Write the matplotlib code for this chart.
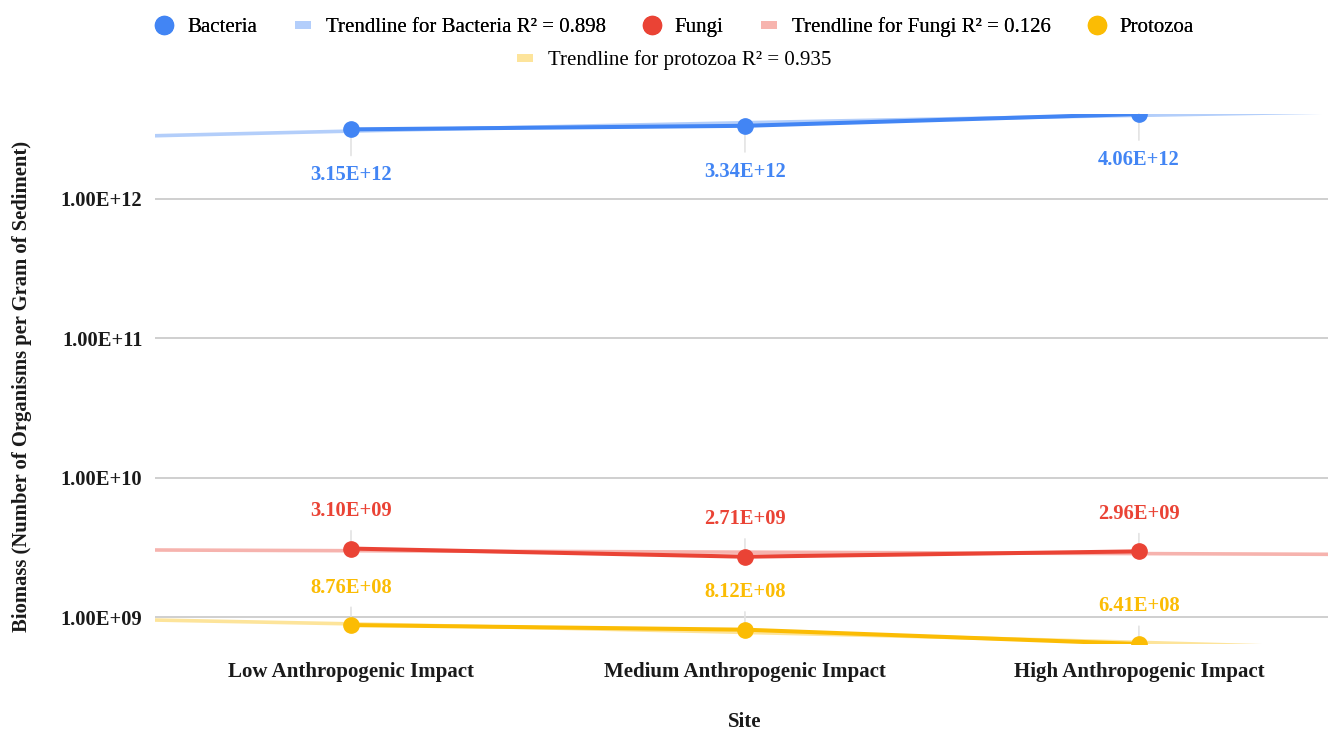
import matplotlib
matplotlib.use("Agg")
import matplotlib.pyplot as plt
import numpy as np
from matplotlib.colors import to_rgb
from matplotlib.lines import Line2D
from matplotlib.path import Path
from matplotlib.ticker import FixedLocator, FuncFormatter

# Biomass per site (organisms per gram of sediment)
sites = ["Low Anthropogenic Impact", "Medium Anthropogenic Impact", "High Anthropogenic Impact"]
bacteria = [3.15e12, 3.34e12, 4.06e12]
fungi = [3.10e9, 2.71e9, 2.96e9]
protozoa = [8.76e8, 8.12e8, 6.41e8]
y_ticks = [1e9, 1e10, 1e11, 1e12]

BLUE = "#4285F4"
RED = "#EA4335"
YELLOW = "#FBBC04"
GRID = "#cccccc"
LEADER = "#e3e3e3"
INK = "#1a1a1a"

plt.rcParams["font.family"] = ["Liberation Serif", "DejaVu Serif"]


def light(color, a=0.4):
    # colour of a translucent line on white
    r, g, b = to_rgb(color)
    return (1 - a + a * r, 1 - a + a * g, 1 - a + a * b)


fig = plt.figure(figsize=(13.28, 7.32), dpi=100)
ax = fig.add_axes([155 / 1328, 88 / 732, 1 - 155 / 1328, 530 / 732])

x = np.arange(len(sites))
xs = np.linspace(-0.5, 2.5, 200)

series = [
    ("Bacteria", bacteria, BLUE, "below"),
    ("Fungi", fungi, RED, "above"),
    ("Protozoa", protozoa, YELLOW, "above"),
]

r2_values = []
for name, vals, color, pos in series:
    vals = np.array(vals)
    # linear trendline fitted on the raw values
    slope, intercept = np.polyfit(x, vals, 1)
    fit = slope * x + intercept
    r2 = 1 - np.sum((vals - fit) ** 2) / np.sum((vals - vals.mean()) ** 2)
    r2_values.append(r2)
    ax.plot(xs, slope * xs + intercept, color=color, alpha=0.4, lw=2.6,
            solid_capstyle="butt", zorder=2)
    ax.plot(x, vals, color=color, lw=2.9, marker="o", ms=11, zorder=5)

    for xi, v in zip(x, vals):
        label = f"{v:.2E}"
        dy = -33 if pos == "below" else 27
        ax.annotate(label, xy=(xi, v), xytext=(0, dy), textcoords="offset points",
                    ha="center", va="center", color=color, fontsize=14.8,
                    fontweight="bold", zorder=3,
                    arrowprops=dict(arrowstyle="-", color=LEADER, lw=1.2,
                                    shrinkA=5, shrinkB=0))

ax.set_yscale("log")
ax.set_ylim(min(protozoa), max(bacteria))
ax.set_xlim(-0.4975, 2.48)

ax.yaxis.set_major_locator(FixedLocator(y_ticks))
ax.yaxis.set_minor_locator(FixedLocator([]))
ax.yaxis.set_major_formatter(FuncFormatter(lambda v, p: f"{v:.2E}"))
ax.set_xticks(x)
ax.set_xticklabels(sites)
ax.tick_params(axis="both", length=0)
ax.tick_params(axis="y", pad=9, labelsize=14.8)
ax.tick_params(axis="x", pad=13, labelsize=15)
for lbl in ax.get_xticklabels() + ax.get_yticklabels():
    lbl.set_fontweight("bold")
    lbl.set_color(INK)

ax.grid(axis="y", color=GRID, lw=1.3)
ax.set_axisbelow(True)
for s in ax.spines.values():
    s.set_visible(False)

fig.text(22 / 1328, 1 - 386 / 732, "Biomass (Number of Organisms per Gram of Sediment)",
         rotation=90, ha="center", va="center", fontsize=14.9, fontweight="bold",
         color=INK)
fig.text(745 / 1328, 1 - 722 / 732, "Site", ha="center", va="center",
         fontsize=15, fontweight="bold", color=INK)

# legend: circles for series, short bars for trendlines
bar = Path([(-1, -0.5), (1, -0.5), (1, 0.5), (-1, 0.5), (-1, -0.5)],
           [Path.MOVETO, Path.LINETO, Path.LINETO, Path.LINETO, Path.CLOSEPOLY])


def dot(color):
    return Line2D([], [], ls="none", marker="o", ms=13, color=color)


def swatch(color):
    return Line2D([], [], ls="none", marker=bar, ms=12, color=light(color), mew=0)


trend_names = ["Bacteria", "Fungi", "protozoa"]
trend_labels = [f"Trendline for {n} R\u00b2 = {r:.3f}" for n, r in zip(trend_names, r2_values)]

row1 = [dot(BLUE), swatch(BLUE), dot(RED), swatch(RED), dot(YELLOW)]
row1_labels = ["Bacteria", trend_labels[0], "Fungi", trend_labels[1], "Protozoa"]
leg1 = fig.legend(row1, row1_labels, ncol=5, loc="center", bbox_to_anchor=(674 / 1328, 1 - 27 / 732),
                  frameon=False, fontsize=15, handlelength=1.0, handletextpad=0.6,
                  columnspacing=1.7, borderaxespad=0)
fig.add_artist(leg1)
fig.legend([swatch(YELLOW)], [trend_labels[2]], loc="center",
           bbox_to_anchor=(673 / 1328, 1 - 60 / 732), frameon=False, fontsize=15,
           handlelength=1.0, handletextpad=0.6, borderaxespad=0)

fig.savefig("out.png", dpi=100)
